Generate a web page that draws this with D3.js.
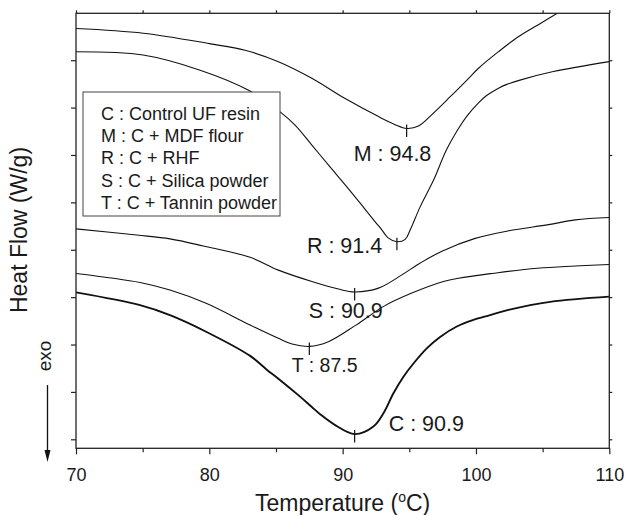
<!DOCTYPE html>
<html>
<head>
<meta charset="utf-8">
<script src="https://cdn.jsdelivr.net/npm/d3@7"></script>
<style>
  html, body { margin: 0; padding: 0; background: #fff; }
  svg { display: block; font-family: "Liberation Sans", Arial, Helvetica, sans-serif; }
</style>
</head>
<body>
<svg id="chart" width="626" height="515"></svg>
<script>
// DSC heat-flow curves (arbitrary offset units, exo down)
const mTemp = [70, 75.05, 80.0, 82.68, 85.18, 87.69, 90.19, 92.69, 93.94, 94.8, 95.69, 96.79, 98.07, 99.32, 100.19, 101.69, 103.2, 104.68, 106.1];
const mHeat = [8.67, 8.57, 8.35, 8.21, 7.97, 7.62, 7.19, 6.81, 6.64, 6.56, 6.61, 6.88, 7.23, 7.58, 7.83, 8.18, 8.50, 8.75, 8.99];

const rTemp = [70, 75.03, 79.31, 82.91, 85.31, 86.43, 87.69, 88.93, 90.19, 91.44, 92.44, 92.94, 93.41, 94.07, 94.69, 95.07, 95.82, 96.82, 97.77, 98.69, 99.32, 100.19, 100.82, 101.69, 102.32, 103.3, 105.8, 110];
const rHeat = [8.18, 8.11, 7.79, 7.37, 6.91, 6.63, 6.21, 5.79, 5.37, 4.94, 4.59, 4.42, 4.25, 4.17, 4.22, 4.42, 4.91, 5.47, 6.10, 6.56, 6.82, 7.10, 7.26, 7.41, 7.49, 7.58, 7.76, 7.97];

const sTemp = [70, 74.55, 77.05, 79.55, 83.06, 85.18, 87.69, 89.68, 90.9, 92.69, 94.44, 95.82, 97.45, 99.94, 102.44, 105.44, 107.45, 110];
const sHeat = [4.44, 4.31, 4.23, 4.08, 3.84, 3.57, 3.33, 3.17, 3.11, 3.19, 3.47, 3.72, 3.97, 4.24, 4.40, 4.53, 4.63, 4.68];

const tTemp = [70, 74.80, 77.05, 79.76, 83.06, 85.18, 86.21, 87.5, 88.93, 91.0, 93.11, 95.14, 97.56, 98.69, 101.2, 104.6, 110];
const tHeat = [3.50, 3.31, 3.15, 2.87, 2.41, 2.13, 2.01, 1.96, 2.06, 2.41, 2.81, 3.08, 3.33, 3.40, 3.50, 3.61, 3.69];

const cTemp = [70, 74.80, 77.05, 79.76, 83.06, 84.31, 85.18, 86.81, 87.69, 88.31, 89.5, 90.9, 92.31, 93.06, 93.81, 94.56, 95.31, 96.31, 97.31, 98.56, 99.81, 101.06, 102.44, 105.56, 110];
const cHeat = [3.10, 2.83, 2.62, 2.27, 1.76, 1.47, 1.28, 0.90, 0.68, 0.53, 0.29, 0.11, 0.27, 0.55, 0.97, 1.32, 1.60, 1.92, 2.16, 2.38, 2.52, 2.62, 2.73, 2.90, 3.01];

const seriesKeys = ["M", "R", "S", "T", "C"];
const peakLabels = ["M : 94.8", "R : 91.4", "S : 90.9", "T : 87.5", "C : 90.9"];
const legendLines = ["C : Control UF resin", "M : C + MDF flour", "R : C + RHF", "S : C + Silica powder", "T : C + Tannin powder"];

const xMajorTicks = [70, 80, 90, 100, 110];
const xMinorTicks = [75, 85, 95, 105];
const xAllTicks = [70, 75, 80, 85, 90, 95, 100, 105, 110];
const yTicks = [0, 1, 2, 3, 4, 5, 6, 7, 8];

// ---- layout ----
const plot = { left: 76, right: 609.3, top: 13.3, bottom: 448.3 };
const labelOffset = {          // label start relative to the peak marker
  M: { dx: -53, dy: 33, size: 21.5 },
  R: { dx: -90, dy: 11, size: 21.5 },
  S: { dx: -46, dy: 26, size: 21.5 },
  T: { dx: -17.5, dy: 26, size: 19.5 },
  C: { dx: 34, dy: -3, size: 21.5 }
};

const svg = d3.select("#chart");
const x = d3.scaleLinear().domain([70, 110]).range([plot.left, plot.right]);
const y = d3.scaleLinear().domain([-0.19, 8.99]).range([plot.bottom, plot.top]);

const series = {
  M: d3.zip(mTemp, mHeat),
  R: d3.zip(rTemp, rHeat),
  S: d3.zip(sTemp, sHeat),
  T: d3.zip(tTemp, tHeat),
  C: d3.zip(cTemp, cHeat)
};

svg.append("defs").append("clipPath").attr("id", "plotClip")
  .append("rect")
  .attr("x", plot.left).attr("y", plot.top)
  .attr("width", plot.right - plot.left).attr("height", plot.bottom - plot.top);

const line = d3.line()
  .x(d => x(d[0])).y(d => y(d[1]))
  .curve(d3.curveCatmullRom.alpha(0.5));

const curves = svg.append("g").attr("clip-path", "url(#plotClip)");
seriesKeys.forEach(k => {
  curves.append("path")
    .datum(series[k])
    .attr("fill", "none")
    .attr("stroke", "#111")
    .attr("stroke-width", k === "C" ? 1.9 : 1.1)
    .attr("stroke-linejoin", "round")
    .attr("d", line);
});

// peak markers and labels
seriesKeys.forEach((k, i) => {
  const pk = d3.least(series[k], d => d[1]);
  const px = x(pk[0]), py = y(pk[1]);
  svg.append("line")
    .attr("x1", px).attr("x2", px)
    .attr("y1", py - 4).attr("y2", py + 8.5)
    .attr("stroke", "#111").attr("stroke-width", 1.2);
  const o = labelOffset[k];
  svg.append("text")
    .attr("x", px + o.dx).attr("y", py + o.dy)
    .attr("font-size", o.size)
    .attr("fill", "#1a1a1a")
    .text(peakLabels[i]);
});

// legend box
const lg = svg.append("g");
lg.append("rect")
  .attr("x", 83).attr("y", 92).attr("width", 197).attr("height", 124)
  .attr("fill", "#fff").attr("stroke", "#444").attr("stroke-width", 1);
lg.selectAll("text").data(legendLines).join("text")
  .attr("x", 101)
  .attr("y", (d, i) => 119.5 + i * 22.4)
  .attr("font-size", 18)
  .attr("fill", "#1a1a1a")
  .text(d => d);

// axes
const axisStyle = g => {
  g.select(".domain").remove();
  g.selectAll(".tick line").attr("stroke", "#222").attr("stroke-width", 1.2);
};

svg.append("g")
  .attr("transform", `translate(0,${plot.bottom})`)
  .call(d3.axisBottom(x).tickValues(xMajorTicks).tickSize(6).tickPadding(14).tickFormat(d3.format("d")))
  .call(axisStyle)
  .call(g => g.selectAll("text").attr("font-size", 18).attr("fill", "#1a1a1a")
    .attr("font-family", "Liberation Sans, Arial, sans-serif"));

svg.append("g")
  .attr("transform", `translate(0,${plot.bottom})`)
  .call(d3.axisBottom(x).tickValues(xMinorTicks).tickSize(4).tickFormat(""))
  .call(axisStyle);

svg.append("g")
  .attr("transform", `translate(0,${plot.top})`)
  .call(d3.axisTop(x).tickValues(xAllTicks).tickSize(3).tickFormat(""))
  .call(axisStyle);

svg.append("g")
  .attr("transform", `translate(${plot.left},0)`)
  .call(d3.axisLeft(y).tickValues(yTicks).tickSize(5).tickFormat(""))
  .call(axisStyle);

svg.append("g")
  .attr("transform", `translate(${plot.right},0)`)
  .call(d3.axisRight(y).tickValues(yTicks).tickSize(3).tickFormat(""))
  .call(axisStyle);

// frame
svg.append("rect")
  .attr("x", plot.left).attr("y", plot.top)
  .attr("width", plot.right - plot.left).attr("height", plot.bottom - plot.top)
  .attr("fill", "none").attr("stroke", "#222").attr("stroke-width", 1.3);

// axis titles
const xt = svg.append("text")
  .attr("x", (plot.left + plot.right) / 2).attr("y", 511)
  .attr("text-anchor", "middle").attr("font-size", 23).attr("fill", "#1a1a1a");
xt.append("tspan").text("Temperature (");
xt.append("tspan").attr("font-size", 14).attr("dy", -9).text("o");
xt.append("tspan").attr("dy", 9).text("C)");

svg.append("text")
  .attr("transform", `translate(27,230) rotate(-90)`)
  .attr("text-anchor", "middle").attr("font-size", 23).attr("fill", "#1a1a1a")
  .text("Heat Flow (W/g)");

// exo direction indicator
svg.append("text")
  .attr("transform", `translate(51,356) rotate(-90)`)
  .attr("text-anchor", "middle").attr("font-size", 19).attr("fill", "#1a1a1a")
  .text("exo");
svg.append("line")
  .attr("x1", 47.5).attr("x2", 47.5).attr("y1", 385).attr("y2", 452)
  .attr("stroke", "#111").attr("stroke-width", 1.3);
svg.append("path")
  .attr("d", "M44.5,450 L50.5,450 L47.5,462 Z")
  .attr("fill", "#111");
</script>
</body>
</html>
